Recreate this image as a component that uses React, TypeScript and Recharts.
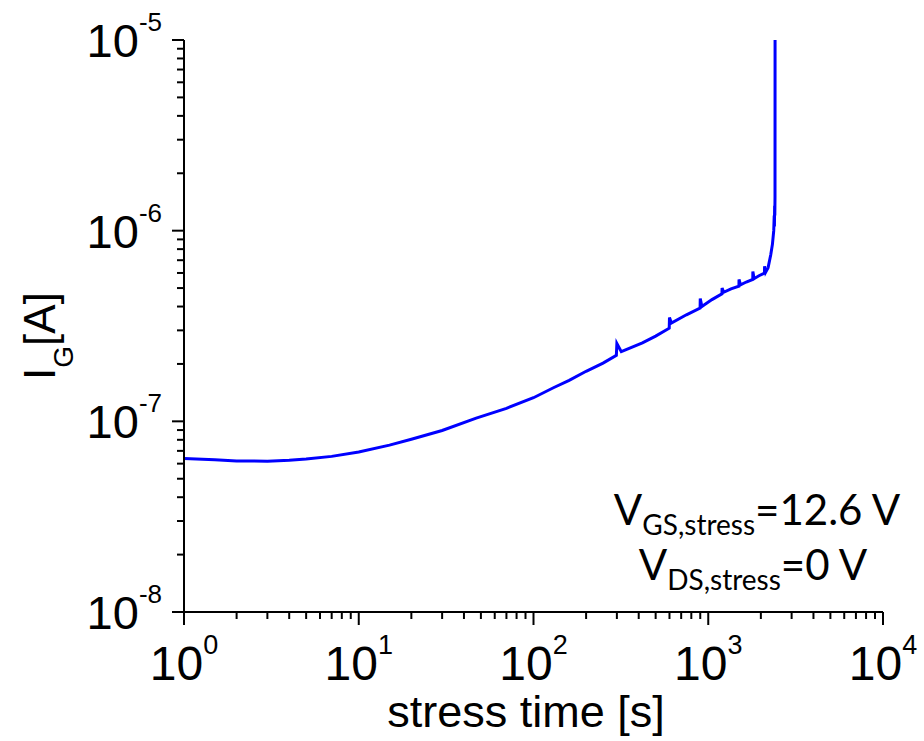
import { LineChart, Line, XAxis, YAxis, Label } from 'recharts';

// stress time [s]
const times = [
  1, 1.5, 2, 3, 4, 5, 7, 10, 15, 20, 30, 47, 70, 100, 130, 160, 200, 250, 298,
  300, 318, 420, 500, 598,
  600, 615, 750, 898,
  900, 920, 1050, 1198,
  1200, 1225, 1350, 1498,
  1500, 1530, 1650, 1798,
  1800, 1830, 1950, 2098,
  2100, 2130, 2200, 2280, 2330, 2370, 2385, 2392, 2398, 2404, 2410, 2412,
];

// gate current I_G [A]
const currents = [
  6.38e-8, 6.28e-8, 6.2e-8, 6.18e-8, 6.25e-8, 6.35e-8, 6.55e-8, 6.9e-8, 7.5e-8, 8.05e-8,
  8.95e-8, 1.04e-7, 1.17e-7, 1.33e-7, 1.5e-7, 1.64e-7, 1.83e-7, 2.02e-7, 2.22e-7,
  2.56e-7, 2.32e-7, 2.58e-7, 2.8e-7, 3.08e-7,
  3.5e-7, 3.28e-7, 3.62e-7, 3.93e-7,
  4.4e-7, 4.0e-7, 4.35e-7, 4.66e-7,
  5.0e-7, 4.75e-7, 4.95e-7, 5.12e-7,
  5.55e-7, 5.2e-7, 5.38e-7, 5.55e-7,
  6.1e-7, 5.6e-7, 5.8e-7, 6.0e-7,
  6.5e-7, 6.05e-7, 6.4e-7, 7.5e-7, 8.5e-7, 1.0e-6, 1.2e-6, 1.05e-6, 1.35e-6, 1.2e-6, 1.5e-6, 1e-5,
];

const xTicks = [
  1, 2, 3, 4, 5, 6, 7, 8, 9,
  10, 20, 30, 40, 50, 60, 70, 80, 90,
  100, 200, 300, 400, 500, 600, 700, 800, 900,
  1000, 2000, 3000, 4000, 5000, 6000, 7000, 8000, 9000,
  10000,
];

const yTicks = [
  1e-8, 2e-8, 3e-8, 4e-8, 5e-8, 6e-8, 7e-8, 8e-8, 9e-8,
  1e-7, 2e-7, 3e-7, 4e-7, 5e-7, 6e-7, 7e-7, 8e-7, 9e-7,
  1e-6, 2e-6, 3e-6, 4e-6, 5e-6, 6e-6, 7e-6, 8e-6, 9e-6,
  1e-5,
];

const data = times.map((t, i) => ({ t, current: currents[i] }));

const FONT = '"Liberation Sans", Arial, sans-serif';

function decadeExp(v: number) {
  const e = Math.log10(v);
  const r = Math.round(e);
  return Math.abs(e - r) < 1e-6 ? r : null;
}

function XTick(props: any) {
  const { x, y, payload } = props;
  const exp = decadeExp(payload.value);
  const major = exp !== null;
  return (
    <g>
      <line x1={x} x2={x} y1={y} y2={y + (major ? 13 : 7)} stroke="#000" strokeWidth={2} />
      {major && (
        <text x={x} y={y + 68} textAnchor="middle" fontFamily={FONT} fontSize={48} fill="#000">
          10<tspan dy={-26} fontSize={27}>{exp}</tspan>
        </text>
      )}
    </g>
  );
}

function YTick(props: any) {
  const { x, y, payload } = props;
  const exp = decadeExp(payload.value);
  const major = exp !== null;
  return (
    <g>
      <line x1={x} x2={x - (major ? 12 : 7)} y1={y} y2={y} stroke="#000" strokeWidth={2} />
      {major && (
        <text x={x - 22} y={y + 17} textAnchor="end" fontFamily={FONT} fontSize={47} fill="#000">
          10<tspan dy={-26} fontSize={26}>{exp}</tspan>
        </text>
      )}
    </g>
  );
}

export default function App() {
  return (
    <div style={{ position: 'absolute', left: 0, top: 0, width: 924, height: 741, background: '#fff' }}>
      <LineChart width={924} height={741} data={data} margin={{ top: 40, right: 41, left: 0, bottom: 0 }}>
        <XAxis
          dataKey="t"
          type="number"
          scale="log"
          domain={[1, 10000]}
          allowDataOverflow
          ticks={xTicks}
          interval={0}
          height={129}
          tickSize={0}
          tickMargin={0}
          tickLine={false}
          axisLine={{ stroke: '#000', strokeWidth: 2 }}
          tick={<XTick />}
        >
          <Label
            content={() => (
              <text x={526} y={727} textAnchor="middle" fontFamily={FONT} fontSize={45} fill="#000">
                stress time [s]
              </text>
            )}
          />
        </XAxis>
        <YAxis
          type="number"
          scale="log"
          domain={[1e-8, 1e-5]}
          allowDataOverflow
          ticks={yTicks}
          interval={0}
          width={184}
          tickSize={0}
          tickMargin={0}
          tickLine={false}
          axisLine={{ stroke: '#000', strokeWidth: 2 }}
          tick={<YTick />}
        >
          <Label
            content={() => (
              <text
                x={55}
                y={336}
                transform="rotate(-90, 55, 336)"
                textAnchor="middle"
                fontFamily={FONT}
                fontSize={44}
                fill="#000"
              >
                I<tspan dy={18} fontSize={28}>G</tspan>
                <tspan dy={-18}>[A]</tspan>
              </text>
            )}
          />
        </YAxis>
        <Line
          type="linear"
          dataKey="current"
          stroke="#0000ff"
          strokeWidth={3}
          dot={false}
          isAnimationActive={false}
        />
      </LineChart>
      <svg
        width={924}
        height={741}
        style={{ position: 'absolute', left: 0, top: 0, pointerEvents: 'none' }}
        fontFamily='Lato, "Open Sans", sans-serif'
        fill="#000"
      >
        <text x={757} y={525} textAnchor="middle" fontSize={42}>
          V<tspan dy={10} fontSize={28}>GS,stress</tspan>
          <tspan dy={-10}>=12.6 V</tspan>
        </text>
        <text x={753} y={580} textAnchor="middle" fontSize={42}>
          V<tspan dy={10} fontSize={28}>DS,stress</tspan>
          <tspan dy={-10}>=0 V</tspan>
        </text>
      </svg>
    </div>
  );
}
